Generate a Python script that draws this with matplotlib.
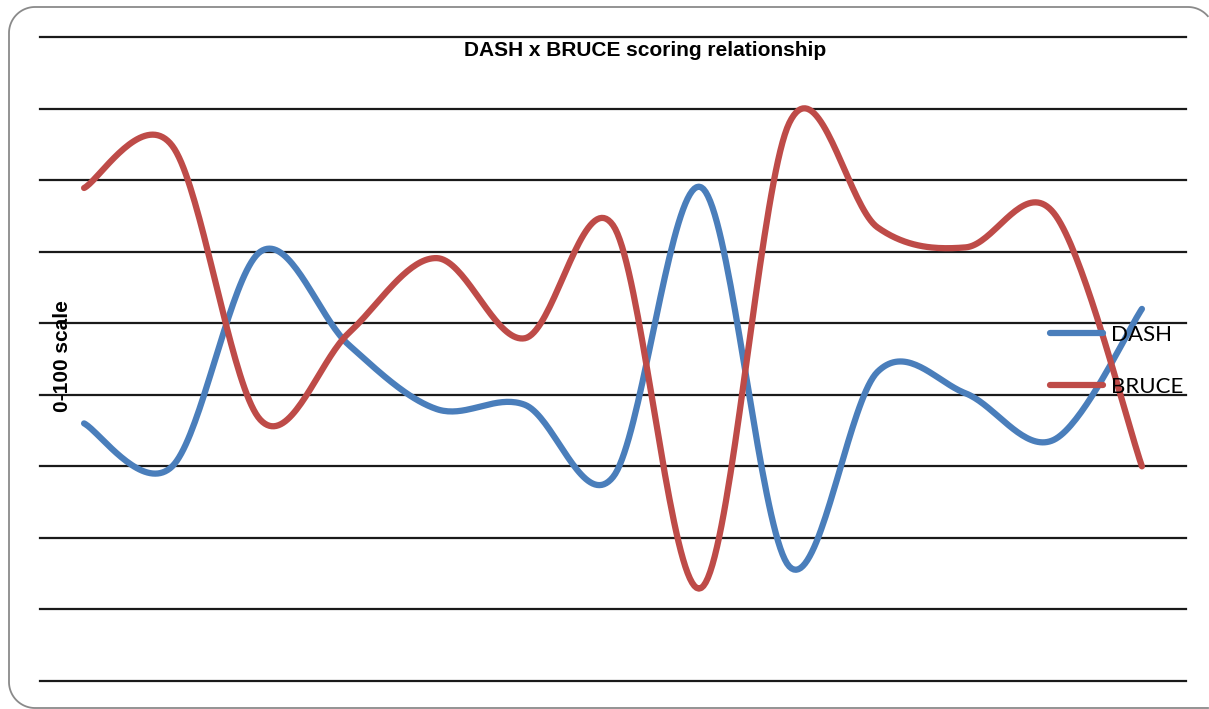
import numpy as np
import matplotlib
matplotlib.use("Agg")
import matplotlib.pyplot as plt
from matplotlib.lines import Line2D

# ---- data ----
categories = list(range(1, 14))
dash = [36, 30, 60, 47, 38, 38.6, 28.5, 69, 16, 43.2, 40.2, 33.7, 52]
bruce = [68.9, 74.8, 36.5, 48.6, 59.1, 47.9, 63.7, 13, 78, 63.4, 60.6, 65.4, 30]
title = "DASH x BRUCE scoring relationship"
ylabel = "0-100 scale"
yticks = list(range(0, 100, 10))

def smooth(x, y, n=40):
    x = np.asarray(x, float); y = np.asarray(y, float)
    P = np.column_stack([x, y])
    P = np.vstack([P[0], P, P[-1]])
    out = []
    t = np.linspace(0, 1, n)[:, None]
    for i in range(1, len(P) - 2):
        p0, p1, p2, p3 = P[i - 1], P[i], P[i + 1], P[i + 2]
        c1 = p1 + (p2 - p0) / 6
        c2 = p2 - (p3 - p1) / 6
        seg = ((1 - t) ** 3) * p1 + 3 * ((1 - t) ** 2) * t * c1 + 3 * (1 - t) * t ** 2 * c2 + t ** 3 * p2
        out.append(seg if i == 1 else seg[1:])
    out = np.vstack(out)
    return out[:, 0], out[:, 1]

W, H = 1209, 709
fig = plt.figure(figsize=(W / 100, H / 100), dpi=100)
fig.patch.set_facecolor("white")

# rounded border (pixel coordinates, y downwards), only the visible part
bg = fig.add_axes([0, 0, 1, 1])
bg.set_xlim(0, W)
bg.set_ylim(H, 0)
bg.axis("off")
L, T, R, B, r = 9.0, 7.0, 1214.0, 708.0, 26.0
a1 = np.linspace(np.pi / 2, np.pi, 30)          # bottom-left corner
a2 = np.linspace(np.pi, 1.5 * np.pi, 30)        # top-left corner
a3 = np.linspace(1.5 * np.pi, 2 * np.pi, 30)    # top-right corner
bx_ = np.concatenate([[W - 1], L + r + r * np.cos(a1), L + r + r * np.cos(a2),
                      R - r + r * np.cos(a3)])
by_ = np.concatenate([[B], B - r + r * np.sin(a1), T + r + r * np.sin(a2),
                      T + r + r * np.sin(a3)])
keep = bx_ <= W - 0.5
bg.plot(bx_[keep], by_[keep], color="#8a8a8a", linewidth=1.3)

ax = fig.add_axes([40 / W, (H - 681) / H, 1146 / W, 644 / H])
ax.set_facecolor("none")
ax.set_xlim(-0.5, len(categories) - 0.5)
ax.set_ylim(0, 90)
ax.set_yticks(yticks)
ax.yaxis.grid(True, color="#1a1a1a", linewidth=1.6)
for gl in ax.get_ygridlines():
    gl.set_clip_on(False)
ax.set_axisbelow(True)
ax.tick_params(left=False, bottom=False, labelleft=False, labelbottom=False)
for s in ax.spines.values():
    s.set_visible(False)

xs = np.arange(len(categories))
bx, by = smooth(xs, dash)
ax.plot(bx, by, color="#4A7EBB", linewidth=4.5, solid_capstyle="round", clip_on=False, zorder=3)
rx, ry = smooth(xs, bruce)
ax.plot(rx, ry, color="#BE4B48", linewidth=4.5, solid_capstyle="round", clip_on=False, zorder=3)

fig.text(645 / W, 1 - 51 / H, title, ha="center", va="center",
         fontsize=15, fontweight="bold", family="Liberation Sans")
fig.text(63 / W, 1 - 356 / H, ylabel, ha="center", va="center", rotation=90,
         fontsize=15, fontweight="bold", family="Liberation Sans")

handles = [Line2D([], [], color="#4A7EBB", linewidth=4.5, solid_capstyle="round"),
           Line2D([], [], color="#BE4B48", linewidth=4.5, solid_capstyle="round")]
leg = ax.legend(handles, ["DASH", "BRUCE"], loc="center left",
                bbox_to_anchor=(1050 / W, 1 - 361 / H), bbox_transform=fig.transFigure,
                frameon=False, borderpad=0, borderaxespad=0, handlelength=2.4,
                handletextpad=0.35, labelspacing=1.45,
                prop={"family": "Lato", "size": 16})
leg.set_zorder(5)

fig.savefig("out.png", dpi=100)
